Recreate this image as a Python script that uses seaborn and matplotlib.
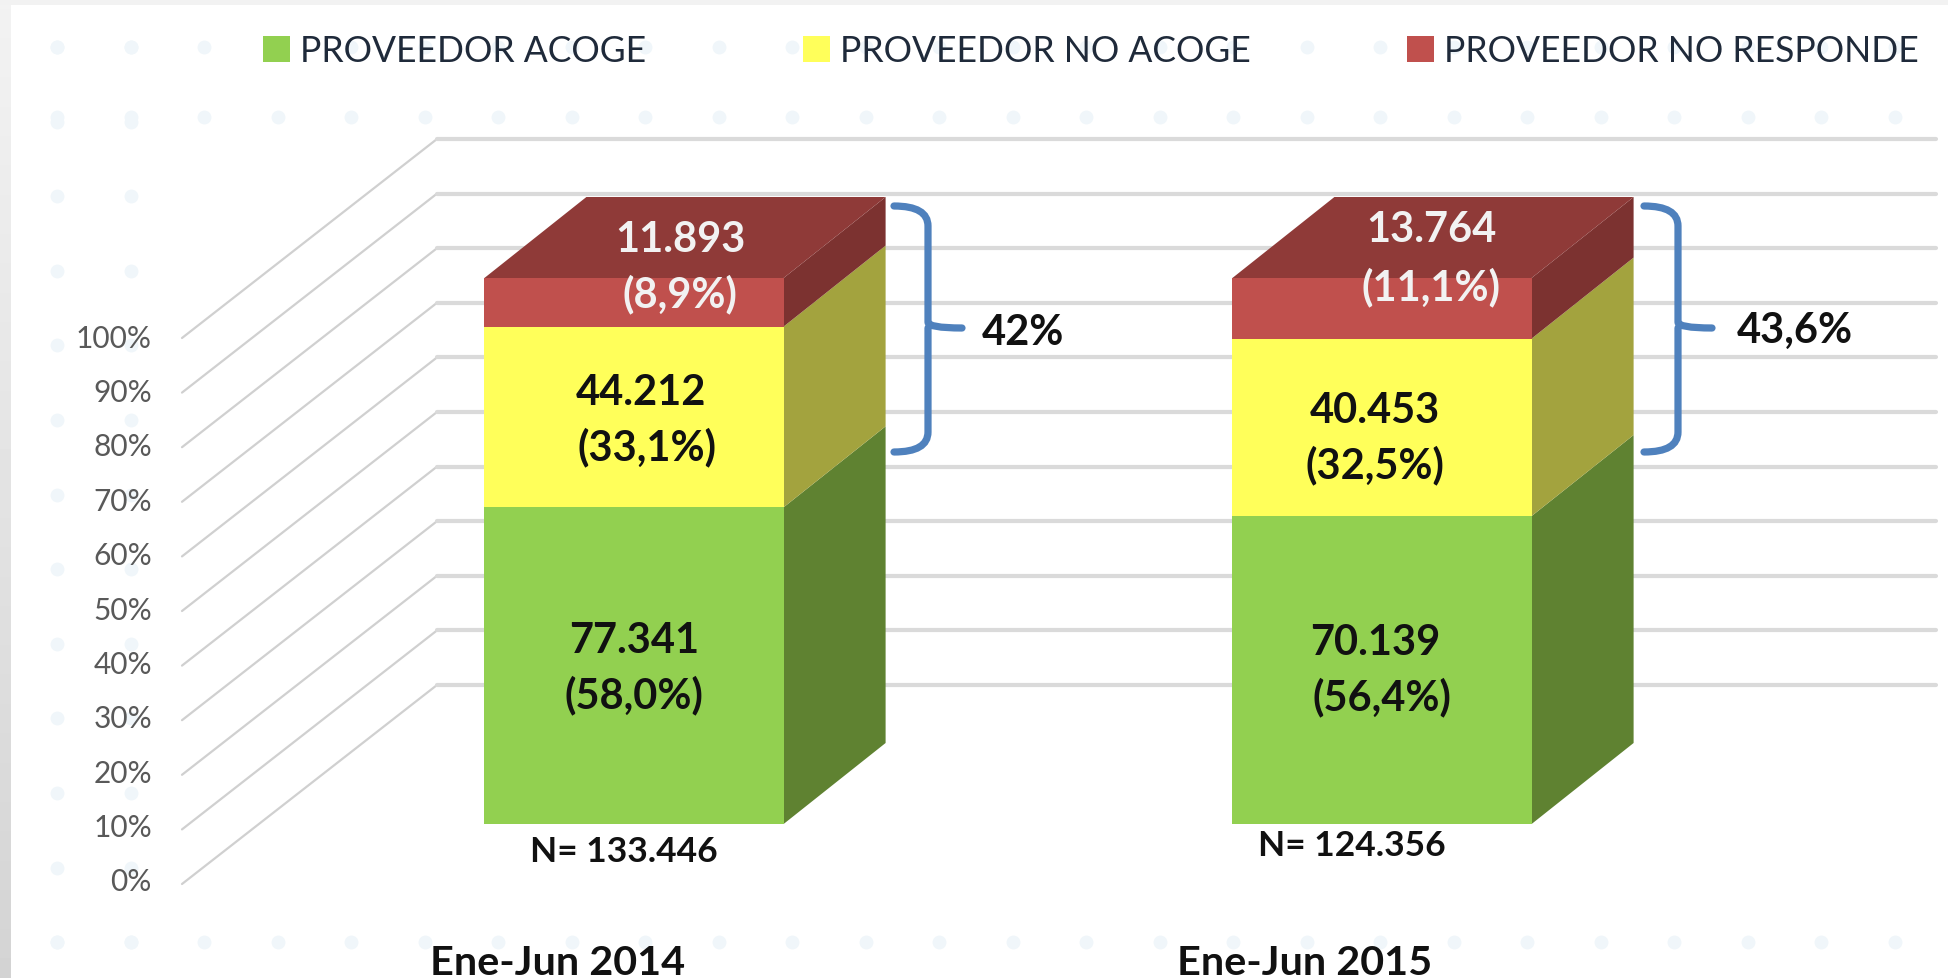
import matplotlib
matplotlib.use('Agg')
import matplotlib.pyplot as plt
import numpy as np
import seaborn as sns
from matplotlib.patches import PathPatch, Polygon, Rectangle
from matplotlib.path import Path
from matplotlib.transforms import Affine2D

# values
periods = ['Ene-Jun 2014', 'Ene-Jun 2015']
series_names = ['PROVEEDOR ACOGE', 'PROVEEDOR NO ACOGE', 'PROVEEDOR NO RESPONDE']
acoge_pct = [58.0, 56.4]
no_acoge_pct = [33.1, 32.5]
no_responde_pct = [8.9, 11.1]
percent_ticks = [0, 10, 20, 30, 40, 50, 60, 70, 80, 90, 100]
tick_labels = ['0%', '10%', '20%', '30%', '40%', '50%', '60%', '70%', '80%', '90%', '100%']
acoge_text = ['77.341\n(58,0%)', '70.139\n(56,4%)']
no_acoge_text = ['44.212\n(33,1%)', '40.453\n(32,5%)']
no_responde_text = ['11.893\n(8,9%)', '13.764\n(11,1%)']
totals_text = ['N= 133.446', 'N= 124.356']
bracket_text = ['42%', '43,6%']

front_colors = ['#92D050', '#FFFF5A', '#C0504D']
side_colors = ['#5F8231', '#A3A33E', '#7C3230']
top_color = '#8F3A38'
grid_color = '#DADADA'
blue = '#4F81BD'

W, H = 1949, 979
PX_X = 748.0   # pixels per category
PX_Y = 5.46    # pixels per percent
X0, Y0 = 634, 825  # pixel position of category 0, 0%

sns.set_theme(style='white')
plt.rcParams['font.family'] = ['Lato', 'DejaVu Sans']

fig = plt.figure(figsize=(W / 100, H / 100), dpi=100, facecolor='white')
ax = fig.add_axes([182 / W, (H - 885) / H, (1936 - 182) / W, (885 - 140) / H])
ax.patch.set_alpha(0)
px = Affine2D().scale(1, -1).translate(0, H)  # reference pixels, y down


def dx(p):
    return p / PX_X


def dy(p):
    return p / PX_Y


# frame of the slide
band = fig.add_axes([0, 0, 11 / W, 1])
band.imshow(0.95 - 0.12 * np.linspace(0, 1, 100).reshape(-1, 1), aspect='auto',
            cmap='gray', vmin=0, vmax=1)
band.axis('off')
fig.patches.append(Rectangle((0, (H - 6) / H), 1, 6 / H, transform=fig.transFigure,
                             facecolor='#F2F2F2', edgecolor='none', figure=fig))

# pale dots of the slide background
dot_x = 57 + 73.5 * np.arange(26)
dot_y = 48 + 74.6 * np.arange(13)
for yy in [dot_y[0], 118, 943]:
    ax.plot(dot_x, np.full(26, yy), 'o', ms=10, mfc='#F0F6FA', mec='none',
            transform=px, clip_on=False, zorder=0)
for xx in dot_x[:2]:
    ax.plot(np.full(13, xx), dot_y, 'o', ms=10, mfc='#F0F6FA', mec='none',
            transform=px, clip_on=False, zorder=0)

# stacked front faces, tallest first so the lower ones sit on top
layers = np.array([acoge_pct, no_acoge_pct, no_responde_pct])
tops = layers.cumsum(axis=0)
for k in [2, 1, 0]:
    sns.barplot(x=periods, y=tops[k], color=front_colors[k], saturation=1, width=0.4,
                label=series_names[k], ax=ax, zorder=4, linewidth=0)

ax.set_xlim((182 - X0) / PX_X, (1936 - X0) / PX_X)
ax.set_ylim(dy(Y0 - 885), dy(Y0 - 140))

# 3d sides and top of each column
depth_x, depth_y = dx(102), dy(81)
half = 0.2
for i in range(len(periods)):
    low = 0
    for k in range(3):
        high = tops[k][i]
        r = i + half
        ax.add_patch(Polygon([(r, low), (r + depth_x, low + depth_y),
                              (r + depth_x, high + depth_y), (r, high)],
                             facecolor=side_colors[k], edgecolor='none', zorder=3))
        low = high
    ax.add_patch(Polygon([(i - half, 100), (i - half + depth_x, 100 + depth_y),
                          (i + half + depth_x, 100 + depth_y), (i + half, 100)],
                         facecolor=top_color, edgecolor='none', zorder=3))

# floor and back wall lines
floor_y = dy(Y0 - 885)
back_y = dy(Y0 - 686)
for v in percent_ticks:
    ax.plot([(182 - X0) / PX_X, (437 - X0) / PX_X],
            [floor_y + v, back_y + v],
            color='#D0D0D0', lw=1.6, zorder=1, clip_on=False)
    ax.plot([(437 - X0) / PX_X, (1936 - X0) / PX_X],
            [back_y + v, back_y + v],
            color=grid_color, lw=3, zorder=1, clip_on=False)

# real ticks, shifted to where the picture has them
ax.set_yticks([dy(Y0 - (880 - 5.44 * v)) for v in percent_ticks], labels=tick_labels)
ax.set_xticks([(558 - X0) / PX_X, (1305 - X0) / PX_X], labels=periods)
ax.tick_params(axis='y', length=0, pad=21.6, labelsize=21.5, labelcolor='#595959')
ax.tick_params(axis='x', length=0, pad=43, labelsize=29.8, labelcolor='#111111')
for t in ax.get_xticklabels():
    t.set_fontweight('bold')
ax.set_xlabel('')
ax.set_ylabel('')
sns.despine(ax=ax, left=True, bottom=True, top=True, right=True)

# legend
handles, labels = ax.get_legend_handles_labels()
ax.legend(handles[::-1], labels[::-1], ncol=3, frameon=False, fontsize=25.6,
          loc='center left', bbox_to_anchor=(263, 979 - 52),
          bbox_transform=Affine2D(), borderpad=0, borderaxespad=0,
          handlelength=0.76, handleheight=0.76, handletextpad=0.28, columnspacing=4.4,
          labelcolor='#1F2A3A')


def label(x, y, txt, size=30, color='#111111'):
    ax.text(x, y + 3, txt, transform=px, color=color, fontsize=size, fontweight='bold',
            ha='center', va='center', zorder=6, clip_on=False)


# value labels, one text per line as the lines sit apart in the picture
def two_lines(txt, x1, y1, x2, y2, color='#111111'):
    a, b = txt.split('\n')
    label(x1, y1, a, color=color)
    label(x2, y2, b, color=color)


two_lines(acoge_text[0], 634, 638, 634, 692)
two_lines(no_acoge_text[0], 641, 390, 647, 444)
two_lines(no_responde_text[0], 680, 237, 680, 291, color='#F2F2F2')
two_lines(acoge_text[1], 1375, 640, 1382, 694)
two_lines(no_acoge_text[1], 1375, 408, 1375, 462)
two_lines(no_responde_text[1], 1431, 227, 1431, 284, color='#F2F2F2')

for txt, x, y in zip(totals_text, [624, 1352], [849, 843]):
    label(x, y, txt, size=25.5)


# curly brackets
def bracket(x0, xs, xt, y0, ym, y1):
    verts = [(x0, y0), (xs, y0), (xs, y0 + 20), (xs, ym - 6), (xs, ym), (xt, ym),
             (xs, ym), (xs, ym + 6), (xs, y1 - 20), (xs, y1), (x0, y1)]
    codes = [Path.MOVETO, Path.CURVE3, Path.CURVE3, Path.LINETO, Path.CURVE3, Path.CURVE3,
             Path.MOVETO, Path.CURVE3, Path.LINETO, Path.CURVE3, Path.CURVE3]
    ax.add_patch(PathPatch(Path(verts, codes), facecolor='none', edgecolor=blue, lw=5.2,
                           transform=px, clip_on=False, zorder=5, capstyle='round'))


bracket(894, 928, 962, 207, 329, 453)
bracket(1644, 1678, 1712, 207, 329, 453)
label(1023, 330, bracket_text[0])
label(1795, 328, bracket_text[1])

fig.savefig('out.png', dpi=100)
